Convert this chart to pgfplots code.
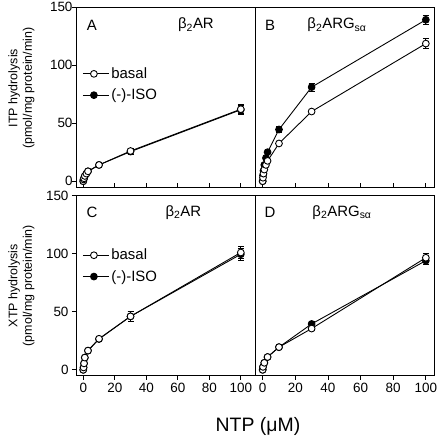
\documentclass[border=0pt]{standalone}
\usepackage{fontspec}
\setmainfont{Liberation Sans}
\usepackage{pgfplots}
\pgfplotsset{compat=1.18}
\newcommand{\tk}{\fontsize{12.5}{14.5}\selectfont}
\newcommand{\tl}{\fontsize{13.5}{15}\selectfont}
\newcommand{\lb}{\fontsize{15}{17}\selectfont}
\pgfplotsset{
  panel/.style={
    scale only axis, width=179bp, height=180bp,
    ymin=-5, ymax=150,
    axis line style={line width=0.8pt},
    every tick/.style={black, line width=0.8pt},
    ytick={0,50,100,150}, xtick={0,20,40,60,80,100},
    tick label style={font=\tl},
    /pgf/number format/assume math mode=true,
    major tick length=4bp,
    clip=false,
  },
  basal/.style={black, line width=0.9pt, mark=*, mark size=3.4pt,
    mark options={fill=white, solid},
    error bars/.cd, y dir=both, y explicit,
    error bar style={line width=0.8pt},
    error mark options={black, rotate=90, mark size=3pt, line width=0.8pt}},
  iso/.style={black, line width=0.9pt, mark=*, mark size=3.4pt,
    mark options={fill=black, solid},
    error bars/.cd, y dir=both, y explicit,
    error bar style={line width=0.8pt},
    error mark options={black, rotate=90, mark size=3pt, line width=0.8pt}},
  leg/.style={
    reverse legend,
    legend cell align=left,
    legend style={draw=none, fill=none, font=\lb, at={(axis description cs:0.035,0.675)}, anchor=north west,
      row sep=5bp, inner sep=0pt},
    legend image code/.code={
      \draw[black, line width=0.9pt] (0bp,0bp) -- (26bp,0bp);
      \draw[##1, mark=*, only marks] plot coordinates {(11bp,0bp)};},
  },
}
\begin{document}
\begin{tikzpicture}
\useasboundingbox (0,0) rectangle (440bp,439bp);
% Panel A
\begin{axis}[panel, at={(76bp,252bp)}, anchor=south west,
  xmin=-4.6, xmax=109, xtick pos=bottom, ytick pos=left,
  xticklabels={}, x tick style={/pgfplots/tick align=inside},
  y tick style={/pgfplots/tick align=outside},
  ylabel={ITP hydrolysis\\(pmol/mg protein/min)},
  ylabel style={at={(axis description cs:-0.305,0.55)}, anchor=center, align=center, font=\tk},
  leg]
\addplot[iso] coordinates {(0,0) +- (0,0) (0.2,1.5) +- (0,0) (0.5,2.5) +- (0,0) (1,4.5) +- (0,0) (2,6.5) +- (0,0) (3,8.5) +- (0,0) (10,14) +- (0,0) (30,25.5) +- (0,2.5) (100,61.5) +- (0,4)};
\addlegendentry{(-)-ISO}
\addplot[basal] coordinates {(0,0) +- (0,0) (0.2,1.5) +- (0,0) (0.5,2.5) +- (0,0) (1,4.5) +- (0,0) (2,6.5) +- (0,0) (3,8.5) +- (0,0) (10,14) +- (0,0) (30,26) +- (0,2.5) (100,62) +- (0,4)};
\addlegendentry{basal}
\node[font=\lb] at (rel axis cs:0.089,0.9) {A};
\node[font=\lb] at (rel axis cs:0.67,0.9) {β\textsubscript{2}AR};
\end{axis}
% Panel B
\begin{axis}[panel, at={(255bp,252bp)}, anchor=south west,
  xmin=-4.7, xmax=105, xtick pos=bottom, ytick=\empty,
  xticklabels={}, x tick style={/pgfplots/tick align=inside}]
\addplot[iso] coordinates {(0,0) +- (0,0) (0.2,5) +- (0,0) (0.5,9) +- (0,0) (1,14) +- (0,0) (2,20) +- (0,0) (3,25) +- (0,0) (10,44.5) +- (0,2.5) (30,81) +- (0,3.5) (100,139) +- (0,4)};
\addplot[basal] coordinates {(0,0) +- (0,0) (0.2,3) +- (0,0) (0.5,6.5) +- (0,0) (1,10) +- (0,0) (2,14) +- (0,0) (3,17.5) +- (0,0) (10,32.5) +- (0,0) (30,60) +- (0,1) (100,118.5) +- (0,4.5)};
\node[font=\lb] at (rel axis cs:0.084,0.9) {B};
\node[font=\lb] at (rel axis cs:0.458,0.9) {β\textsubscript{2}ARG\textsubscript{sα}};
\end{axis}
% Panel C
\begin{axis}[panel, at={(76bp,63.4bp)}, anchor=south west,
  xmin=-4.6, xmax=109, xtick pos=bottom, ytick pos=left,
  tick align=outside,
  ylabel={XTP hydrolysis\\(pmol/mg protein/min)},
  ylabel style={at={(axis description cs:-0.305,0.5)}, anchor=center, align=center, font=\tk},
  leg, legend style={at={(axis description cs:0.035,0.715)}}]
\addplot[iso] coordinates {(0,0) +- (0,0) (0.2,2) +- (0,0) (0.5,5.5) +- (0,0) (1,10.5) +- (0,0) (3,16.5) +- (0,0) (10,26.5) +- (0,2) (30,46) +- (0,4) (100,99.5) +- (0,5)};
\addlegendentry{(-)-ISO}
\addplot[basal] coordinates {(0,0) +- (0,0) (0.2,2) +- (0,0) (0.5,5.5) +- (0,0) (1,10.5) +- (0,0) (3,16.5) +- (0,0) (10,26.7) +- (0,2) (30,46) +- (0,4) (100,101) +- (0,5)};
\addlegendentry{basal}
\node[font=\lb] at (rel axis cs:0.089,0.905) {C};
\node[font=\lb] at (rel axis cs:0.6,0.905) {β\textsubscript{2}AR};
\end{axis}
% Panel D
\begin{axis}[panel, at={(255bp,63.4bp)}, anchor=south west,
  xmin=-4.7, xmax=105, xtick pos=bottom, ytick=\empty,
  tick align=outside]
\addplot[iso] coordinates {(0,0) +- (0,0) (0.2,2.5) +- (0,0) (1,6) +- (0,0) (3,11) +- (0,0) (10,19.5) +- (0,0) (30,39.5) +- (0,2) (100,94) +- (0,3)};
\addplot[basal] coordinates {(0,0) +- (0,0) (0.2,2.5) +- (0,0) (1,6) +- (0,0) (3,11) +- (0,0) (10,19.5) +- (0,0) (30,35.5) +- (0,1.5) (100,96.5) +- (0,4)};
\node[font=\lb] at (rel axis cs:0.084,0.905) {D};
\node[font=\lb] at (rel axis cs:0.486,0.905) {β\textsubscript{2}ARG\textsubscript{sα}};
\end{axis}
\node[font=\fontsize{19.5}{22}\selectfont] at (258bp,13bp) {NTP (μM)};
\end{tikzpicture}
\end{document}
